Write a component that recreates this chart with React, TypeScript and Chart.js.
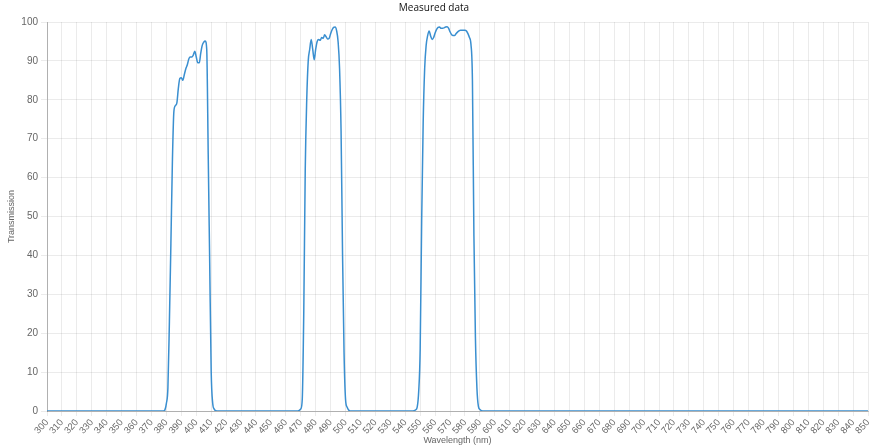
import React, { useEffect, useRef } from "react";
import { Chart, registerables } from "chart.js";

Chart.register(...registerables);

const chartTitle = "Measured data";
const xAxisTitle = "Wavelength (nm)";
const yAxisTitle = "Transmission";

const xMin = 300;
const xMax = 850;
const xStep = 10;
const yMin = 0;
const yMax = 100;
const yStep = 10;

const baseWavelength = [300, 378];
const baseTransmission = [0, 0];

const band1Wavelength = [379, 380, 381, 382, 383, 384, 385, 386, 387, 388, 389, 390, 391, 392, 393, 394, 395, 396, 397, 398, 399, 400, 401, 402, 403, 404, 405, 406, 407, 408, 409, 410, 411, 412, 414];
const band1Transmission = [0.3, 2, 6, 23, 43, 64, 77, 78.5, 79.2, 83, 85.5, 85.7, 85, 86.5, 88, 89, 90.5, 91, 91, 91.5, 92.5, 91, 89.5, 89.5, 92, 94, 94.8, 95.1, 93, 66, 38, 10, 2, 0.5, 0];

const band2Wavelength = [468, 470, 471, 472, 473, 474, 475, 476, 477, 478, 479, 480, 481, 482, 483, 484, 485, 486, 487, 488, 489, 490, 491, 492, 493, 494, 495, 496, 497, 498, 499, 500, 501, 503];
const band2Transmission = [0, 0.5, 3, 25, 62, 80, 90, 93, 95.5, 93, 90.3, 93, 95, 95.5, 95.3, 96, 95.8, 96.7, 96.2, 95.6, 95.8, 97, 98, 98.6, 98.7, 97.8, 95, 88, 72, 40, 15, 3, 1, 0];

const band3Wavelength = [545, 547, 548, 549, 550, 551, 552, 553, 554, 555, 556, 557, 558, 559, 560, 561, 562, 563, 564, 565, 566, 567, 568, 569, 570, 571, 572, 573, 574, 575, 576, 577, 578, 579, 580, 581, 582, 583, 584, 585, 586, 587, 588, 589, 590, 592];
const band3Transmission = [0, 0.3, 1, 5, 16, 49, 74, 88, 94, 96.5, 97.7, 96.4, 95.5, 96, 97.2, 98.1, 98.6, 98.7, 98.4, 98.4, 98.5, 98.7, 98.8, 98.4, 97.5, 96.8, 96.5, 96.5, 97, 97.4, 97.7, 97.9, 97.9, 97.9, 97.9, 97.7, 97, 96, 94.3, 85, 45, 19, 6, 1.2, 0.4, 0];

const tailWavelength = [850];
const tailTransmission = [0];

const allWavelength = [...baseWavelength, ...band1Wavelength, ...band2Wavelength, ...band3Wavelength, ...tailWavelength];
const allTransmission = [...baseTransmission, ...band1Transmission, ...band2Transmission, ...band3Transmission, ...tailTransmission];

export default function App() {
  const canvasRef = useRef<HTMLCanvasElement | null>(null);

  useEffect(() => {
    const canvas = canvasRef.current;
    if (!canvas) return;
    const points = allWavelength.map((x, i) => ({ x, y: allTransmission[i] }));
    const fontFamily = "'Liberation Sans', Arial, Helvetica, sans-serif";
    const chart = new Chart(canvas, {
      type: "line",
      data: {
        datasets: [
          {
            label: "Transmission",
            data: points,
            borderColor: "#3a8fd0",
            backgroundColor: "#3a8fd0",
            borderWidth: 1.5,
            pointRadius: 0,
            fill: false,
            cubicInterpolationMode: "monotone",
          },
        ],
      },
      options: {
        animation: false,
        responsive: true,
        maintainAspectRatio: false,
        layout: { padding: { left: 0, right: 12, top: 0, bottom: 0 } },
        plugins: {
          legend: { display: false },
          tooltip: { enabled: false },
          title: {
            display: true,
            text: chartTitle,
            color: "#111",
            font: { family: "'Open Sans', 'Noto Sans', sans-serif", size: 10, weight: "normal" },
            padding: { top: 2, bottom: 8 },
          },
        },
        scales: {
          x: {
            type: "linear",
            min: xMin,
            max: xMax,
            afterFit: (scale: any) => {
              scale.height = 37;
            },
            ticks: {
              stepSize: xStep,
              color: "#666",
              font: { family: fontFamily, size: 9.5 },
              minRotation: 48,
              maxRotation: 48,
              autoSkip: false,
              padding: 1,
            },
            grid: { color: "rgba(0,0,0,0.08)", tickLength: 5 },
            border: { color: "rgba(0,0,0,0.25)" },
            title: { display: true, text: xAxisTitle, color: "#666", font: { family: fontFamily, size: 9 }, padding: { top: 0, bottom: 2 } },
          },
          y: {
            min: yMin,
            max: yMax,
            afterFit: (scale: any) => {
              scale.width = 47;
            },
            ticks: { stepSize: yStep, color: "#666", font: { family: fontFamily, size: 10 } },
            grid: { color: "rgba(0,0,0,0.08)", tickLength: 6 },
            border: { color: "rgba(0,0,0,0.25)" },
            title: { display: true, text: yAxisTitle, color: "#666", font: { family: fontFamily, size: 9 }, padding: { top: 6, bottom: 0 } },
          },
        },
      },
    });
    return () => chart.destroy();
  }, []);

  return (
    <div style={{ position: "fixed", left: 0, top: 0, width: 880, height: 448, background: "#fff" }}>
      <canvas ref={canvasRef} />
    </div>
  );
}
